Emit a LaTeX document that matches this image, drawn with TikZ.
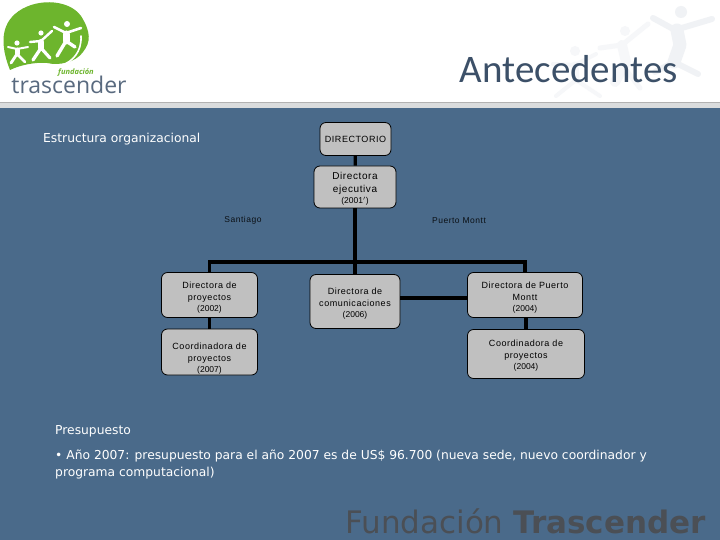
\documentclass[tikz,border=0pt]{standalone}
\usepackage{fontspec}
\setmainfont{DejaVu Sans}
\newfontfamily\titlefont{Carlito}
\newfontfamily\boxfont[LetterSpace=6]{Liberation Sans}
\newfontfamily\plainbox{Liberation Sans}
\newfontfamily\logofont{Open Sans}
\usepackage{tikz}
\usetikzlibrary{positioning, calc}
\definecolor{slide}{HTML}{4A6A8A}
\definecolor{band}{HTML}{DADCDD}
\definecolor{leaf}{HTML}{6DB52D}
\definecolor{boxgray}{HTML}{C0C0C0}
\definecolor{ghost}{HTML}{F0F2F5}
\definecolor{ghostlight}{HTML}{F6F7F9}
\definecolor{inkblue}{HTML}{3C5068}
\definecolor{footgray}{HTML}{4B4F55}
\newcommand{\yeartext}[1]{{\plainbox\fontsize{8.5}{9}\selectfont #1}}
\begin{document}
\begin{tikzpicture}[x=1pt,y=-1pt,
    orgbox/.style={draw=black,fill=boxgray,rounded corners=6pt,line width=0.8pt,inner sep=0pt,align=center,font=\boxfont\fontsize{9}{12.5}\selectfont,text=black},
    link/.style={black,line width=3.2pt},
    place/.style={font=\boxfont\fontsize{8.5}{10}\selectfont,text=black!85!slide},
    bodytext/.style={text=white,anchor=west,font=\fontsize{12.3}{17}\selectfont,inner sep=0pt},
    figure/.style={line width=#1,line cap=round,line join=round}]
    \useasboundingbox (0,0) rectangle (720,540);
    \fill[white] (0,0) rectangle (720,102);
    \fill[band] (0,102) rectangle (720,108);
    \draw[black!30,line width=0.8pt] (0,102.5) -- (720,102.5);
    \fill[slide] (0,108) rectangle (720,540);
    % watermark
    \begin{scope}[draw=ghost,fill=ghost]
        \fill (681,12) circle (6);
        \draw[figure=6pt] (653,18) -- (675,30) -- (712,19);
        \draw[figure=13pt] (677,30) -- (680,45) -- (674,62);
        \draw[figure=6pt] (674,62) -- (698,74) (674,62) -- (655,72);
    \end{scope}
    \begin{scope}[draw=ghostlight,fill=ghostlight]
        \fill (625,31) circle (5);
        \fill (575,51) circle (5);
        \draw[figure=5pt] (600,48) -- (622,45) -- (648,24);
        \draw[figure=10pt] (622,45) -- (626,62) -- (615,82);
        \draw[figure=5pt] (626,70) -- (640,88);
        \draw[figure=4pt] (553,64) -- (575,65) -- (596,54);
        \draw[figure=7pt] (575,65) -- (576,80);
        \draw[figure=4pt] (576,80) -- (556,96) (576,80) -- (600,96);
    \end{scope}
    % logo
    \fill[leaf] (10,70) .. controls (2,50) and (-1,28) .. (15,14) .. controls (33,-2) and (68,-2) .. (81,16)
        .. controls (91,32) and (91,42) .. (83,52) .. controls (76,62) and (60,66) .. (47,63) .. controls (35,62) and (20,65) .. (10,70) -- cycle;
    \begin{scope}[white,fill=white]
        \fill (67,24) circle (3);
        \fill (41,33) circle (2.6);
        \fill (17,43) circle (2.6);
        \draw[figure=2.6pt] (54,27) -- (66,33) -- (81,28);
        \draw[figure=7pt] (66,34) -- (66,41);
        \draw[figure=3.4pt] (66,41) -- (57,56) (66,41) -- (75,47);
        \draw[figure=2.4pt] (30,42) -- (41,41) -- (52,31);
        \draw[figure=6pt] (41,42) -- (41,48);
        \draw[figure=3.2pt] (41,48) -- (33,60) (41,48) -- (50,58);
        \draw[figure=2pt] (8,47) -- (17,49) -- (28,47);
        \draw[figure=5pt] (17,50) -- (17,54);
        \draw[figure=2.8pt] (17,54) -- (11,63) (17,54) -- (25,62);
        \draw[figure=1.6pt] (62,65) .. controls (72,62) and (82,52) .. (81,36);
    \end{scope}
    \node[inner sep=0pt,text=leaf,font=\logofont\itshape\bfseries\fontsize{7.5}{8}\selectfont] (logotop) at (76,73) {fundación};
    \node[inner sep=0pt,text=inkblue!85,font=\logofont\fontsize{23}{24}\selectfont] (logoname) at (69,85) {trascender};
    \node[inner sep=0pt,anchor=east,text=inkblue,font=\titlefont\fontsize{39}{42}\selectfont] (title) at (678,69) {Antecedentes};
    % organigrama
    \node[orgbox,minimum width=71pt,minimum height=33pt] (board) at (355.5,139) {DIRECTORIO};
    \node[orgbox,minimum width=82pt,minimum height=42pt,font=\boxfont\fontsize{10}{13}\selectfont] (chief) at (355,187) {\rule{0pt}{11pt}Directora\\ejecutiva\\[-2pt]\yeartext{(2001$^{\prime}$)}};
    \node[orgbox,minimum width=96pt,minimum height=45pt] (projects) at (209.5,295) {\rule{0pt}{11pt}Directora de\\[-0.5pt]proyectos\\[-1.5pt]\yeartext{(2002)}};
    \node[orgbox,minimum width=96pt,minimum height=46pt] (coordstgo) at (209.5,352) {\rule{0pt}{20pt}Coordinadora de\\[-0.5pt]proyectos\\[-1.5pt]\yeartext{(2007)}};
    \node[orgbox,minimum width=90pt,minimum height=54pt] (comms) at (355,301.5) {\rule{0pt}{11pt}Directora de\\[-0.5pt]comunicaciones\\[-1.5pt]\yeartext{(2006)}};
    \node[orgbox,minimum width=115pt,minimum height=45pt] (pmontt) at (525,295) {\rule{0pt}{11pt}Directora de Puerto\\[-0.5pt]Montt\\[-1.5pt]\yeartext{(2004)}};
    \node[orgbox,minimum width=117pt,minimum height=49pt] (coordpm) at (526,354) {\rule{0pt}{9pt}Coordinadora de\\[-0.5pt]proyectos\\[-1.5pt]\yeartext{(2004)}};
    \coordinate (fork) at (355,262);
    \coordinate (bridge) at (400,298);
    \draw[link] (board) -- (chief);
    \draw[link] (chief) -- (comms);
    \draw[link] (fork) -| (projects);
    \draw[link] (fork) -| (pmontt);
    \draw[link] (projects) -- (coordstgo);
    \draw[link] (pmontt.south -| coordpm) -- (coordpm);
    \draw[link] (bridge) -- (bridge -| pmontt.west);
    \node[place] (santiago) at (243,220.5) {Santiago};
    \node[place] (puerto) at (459,220.5) {Puerto Montt};
    % textos
    \node[bodytext] (estructura) at (43,139) {Estructura organizacional};
    \node[bodytext] (presupuesto) at (55,431) {Presupuesto};
    \node[bodytext,align=left,anchor=north west] (detalle) at (55,450) {• Año 2007: presupuesto para el año 2007 es de US\$ 96.700 (nueva sede, nuevo coordinador y\\programa computacional)};
    \node[inner sep=0pt,anchor=east,text=footgray,font=\fontsize{31}{36}\selectfont] (footer) at (706,521) {Fundación \textbf{Trascender}};
\end{tikzpicture}
\end{document}
